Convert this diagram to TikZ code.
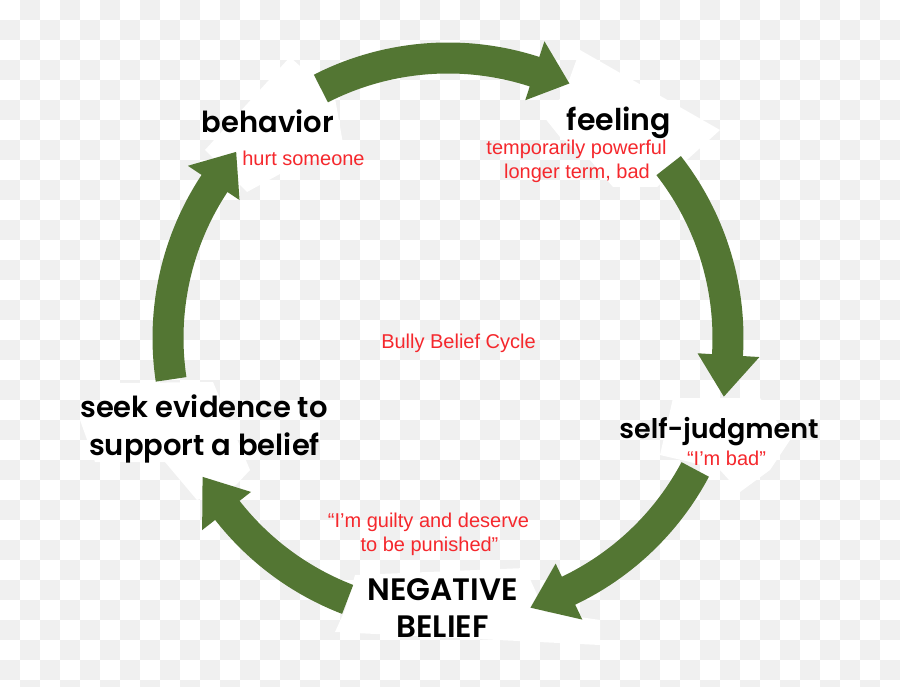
\documentclass[tikz,border=0pt]{standalone}
\usepackage{fontspec}
\setmainfont{Liberation Sans}
\newfontfamily\labfont{Poppins}[UprightFont={* SemiBold}]
\definecolor{checkgray}{RGB}{240,240,240}
\definecolor{arrowgreen}{RGB}{83,118,51}
\definecolor{notered}{RGB}{245,40,45}
\newcommand\cycarrow[3]{%
  \fill[arrowgreen] (#1:295.5) arc[start angle=#1, end angle=#2, radius=295.5]
    -- (#2:312) -- (#3:282) -- (#2:250) -- (#2:264.5)
    arc[start angle=#2, end angle=#1, radius=264.5] -- cycle;}
\tikzset{
  lab/.style={font=\labfont\fontsize{#1}{#1}\selectfont, anchor=base, inner sep=0pt, text=black},
  note/.style={font=\fontsize{20}{24}\selectfont, anchor=base, inner sep=0pt, text=notered},
  whitebg/.style={fill=white}
}
\begin{document}
\begin{tikzpicture}[x=1pt,y=-1pt]
\useasboundingbox (0,0) rectangle (900,687);
\fill[white] (0,0) rectangle (900,687);
% transparency checkerboard
\begin{scope}
\clip (0,0) rectangle (900,687);
\foreach \j in {0,...,34}{
  \pgfmathsetmacro\off{20*(1-mod(\j,2))}
  \foreach \k in {0,...,22}{
    \fill[checkgray] (\off+40*\k,20*\j) rectangle ++(20,20);
  }
}
\end{scope}
% white label backgrounds
\fill[whitebg] (290,57) -- (335,98) -- (345,155) -- (300,163) -- (247,192) -- (205,150) -- cycle;
\fill[whitebg] (540,112) -- (563,97) -- (580,50) -- (720,130) -- (657,187) -- (613,187) -- (590,160) -- (560,137) -- cycle;
\fill[whitebg] (673,398) -- (760,398) -- (790,440) -- (770,470) -- (740,492) -- (720,470) -- (690,462) -- (660,455) -- (668,420) -- cycle;
\fill[whitebg] (355,575) -- (525,568) -- (545,612) -- (600,620) -- (600,645) -- (335,632) -- (345,610) -- cycle;
\fill[whitebg] (120,383) -- (213,382) -- (250,470) -- (236,485) -- (197,500) -- (165,462) -- (95,462) -- (80,420) -- cycle;
% cycle arrows
\begin{scope}[shift={(448,338)}, y=1pt]
\cycarrow{117}{72}{64.5}
\cycarrow{38}{-3.5}{-12}
\cycarrow{-28}{-64.5}{-73}
\cycarrow{249}{218}{209.5}
\cycarrow{188.5}{146.5}{138.7}
\end{scope}
% labels
\node[lab=29] (behavior) at (268,133) {behavior};
\node[note] (hurt) at (303.5,166) {hurt someone};
\node[lab=30] (feeling) at (619,131) {feeling};
\node[note] (feel1) at (576.5,155) {temporarily powerful};
\node[note] (feel2) at (577,179) {longer term, bad};
\node[lab=27] (selfj) at (719,438) {self-judgment};
\node[note] (bad) at (726.5,465) {“I’m bad”};
\node[note] (guilty1) at (428.5,527) {“I’m guilty and deserve};
\node[note] (guilty2) at (429.5,551) {to be punished”};
\node[lab=31] (neg1) at (442.5,600) {NEGATIVE};
\node[lab=31] (neg2) at (442.5,637) {BELIEF};
\node[lab=29] (seek1) at (204,417) {seek evidence to};
\node[lab=29] (seek2) at (204.5,455) {support a belief};
\node[note] (title) at (458.5,348) {Bully Belief Cycle};
\end{tikzpicture}
\end{document}
